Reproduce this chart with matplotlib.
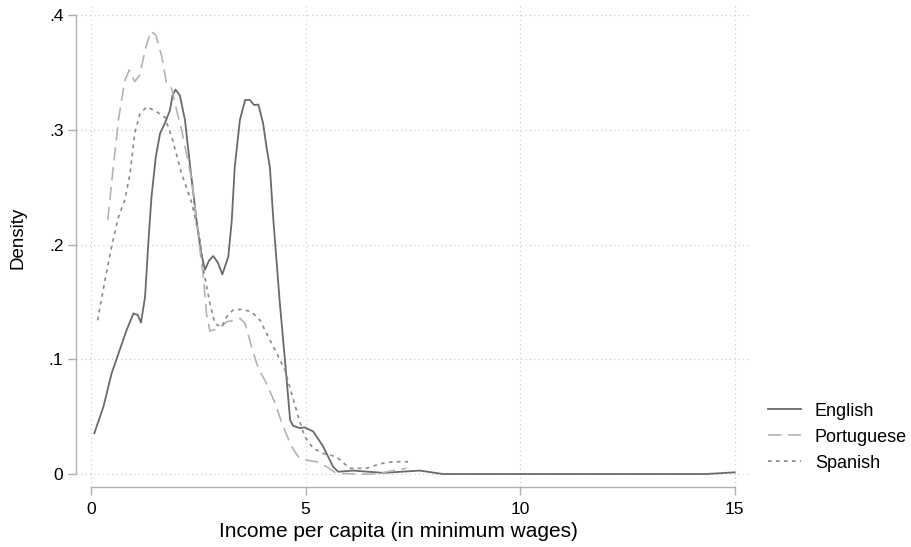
import numpy as np
import matplotlib
matplotlib.use("Agg")
import matplotlib.pyplot as plt

plt.rcParams['font.family'] = ['Liberation Sans', 'DejaVu Sans']

# values
eng_x = [0.077, 0.29, 0.48, 0.64, 0.83, 0.99, 1.09, 1.165, 1.26, 1.335, 1.41, 1.51, 1.61,
         1.72, 1.84, 1.90, 1.97, 2.07, 2.19, 2.31, 2.46, 2.555, 2.655, 2.75, 2.85, 2.96, 3.06,
         3.20, 3.28, 3.35, 3.47, 3.59, 3.70, 3.80, 3.90, 4.01, 4.09, 4.17, 4.25, 4.40, 4.52,
         4.64, 4.71, 4.87, 4.98, 5.18, 5.41, 5.64, 5.76, 6.11, 6.81, 7.66, 8.20, 10.0, 12.0,
         14.34, 15.0]
eng_y = [0.0355, 0.0587, 0.0877, 0.105, 0.1255, 0.140, 0.1386, 0.132, 0.1545, 0.201, 0.2417,
         0.2765, 0.297, 0.3056, 0.317, 0.330, 0.335, 0.330, 0.3085, 0.268, 0.221, 0.195, 0.178,
         0.186, 0.190, 0.184, 0.174, 0.1894, 0.221, 0.268, 0.3085, 0.326, 0.326, 0.3216, 0.322,
         0.3056, 0.285, 0.2667, 0.221, 0.149, 0.099, 0.047, 0.042, 0.040, 0.0407, 0.037, 0.024,
         0.0064, 0.002, 0.003, 0.001, 0.003, 0.0, 0.0, 0.0, 0.0, 0.0015]

por_x = [0.39, 0.52, 0.64, 0.70, 0.79, 0.89, 1.02, 1.14, 1.26, 1.39, 1.51, 1.65, 1.76, 1.88,
         2.03, 2.11, 2.35, 2.54, 2.62, 2.69, 2.77, 3.00, 3.16, 3.35, 3.47, 3.59, 3.74, 3.90,
         4.09, 4.29, 4.48, 4.675, 4.83, 5.02, 5.26, 5.49, 5.72, 6.20, 6.65, 7.04, 7.35]
por_y = [0.2213, 0.268, 0.3085, 0.323, 0.343, 0.352, 0.342, 0.348, 0.3695, 0.386, 0.3826,
         0.3637, 0.3405, 0.336, 0.3115, 0.300, 0.256, 0.195, 0.172, 0.140, 0.1246, 0.127,
         0.1327, 0.134, 0.1357, 0.1313, 0.111, 0.092, 0.079, 0.0616, 0.041, 0.024, 0.015,
         0.0122, 0.0107, 0.0064, 0.0006, 0.0, 0.0, 0.003, 0.005]

spa_x = [0.155, 0.326, 0.48, 0.64, 0.79, 0.91, 1.02, 1.14, 1.30, 1.53, 1.72, 1.88, 2.11,
         2.35, 2.54, 2.62, 2.77, 2.89, 3.04, 3.16, 3.31, 3.51, 3.74, 3.94, 4.13, 4.33, 4.52,
         4.675, 4.83, 4.98, 5.18, 5.41, 5.72, 6.03, 6.42, 6.75, 7.04, 7.39]
spa_y = [0.134, 0.169, 0.198, 0.224, 0.239, 0.262, 0.297, 0.314, 0.320, 0.3157, 0.311,
         0.294, 0.262, 0.236, 0.204, 0.178, 0.149, 0.131, 0.128, 0.137, 0.143, 0.1435,
         0.1415, 0.134, 0.1196, 0.105, 0.0906, 0.0703, 0.050, 0.0325, 0.0224, 0.018, 0.015,
         0.005, 0.005, 0.009, 0.0107, 0.0107]

xticks = [0, 5, 10, 15]
yticks = [0, 0.1, 0.2, 0.3, 0.4]
ytick_labels = ['0', '.1', '.2', '.3', '.4']

fig = plt.figure(figsize=(9.11, 5.47), dpi=100)
ax = fig.add_axes([0.0834, 0.1097, 0.7396, 0.8848])

ax.plot(eng_x, eng_y, color='#6a6a6a', lw=1.3, label='English')
ax.plot(por_x, por_y, color='#b4b4b4', lw=1.2, dashes=(8, 4), label='Portuguese')
ax.plot(spa_x, spa_y, color='#8a8a8a', lw=1.2, dashes=(2.2, 2.6), label='Spanish')

ax.set_xlim(-0.35, 15.35)
ax.set_ylim(-0.0113, 0.4105)
ax.set_xticks(xticks)
ax.set_yticks(yticks)
ax.set_yticklabels(ytick_labels)

ax.grid(True, linestyle=(0, (1, 3)), color='#c8c8c8', lw=0.8)
for s in ['top', 'right']:
    ax.spines[s].set_visible(False)
ax.spines['left'].set_bounds(0, 0.4)
ax.spines['bottom'].set_bounds(0, 15)
for s in ['left', 'bottom']:
    ax.spines[s].set_color('#b0b0b0')
    ax.spines[s].set_linewidth(1.0)
ax.tick_params(axis='both', colors='#b0b0b0', length=6, width=1.0,
               labelcolor='black', labelsize=12.5)
ax.tick_params(axis='y', pad=3)
ax.tick_params(axis='x', pad=5)

ax.set_xlabel('Income per capita (in minimum wages)', fontsize=15)
ax.xaxis.set_label_coords(0.479, -0.072)
ax.set_ylabel('Density', fontsize=13.5)
ax.yaxis.set_label_coords(-0.074, 0.514)

ax.legend(loc='center left', bbox_to_anchor=(1.003, 0.103), frameon=False, fontsize=13,
          handlelength=1.85, handletextpad=0.75, labelspacing=0.5)

fig.savefig('out.png', dpi=100)
